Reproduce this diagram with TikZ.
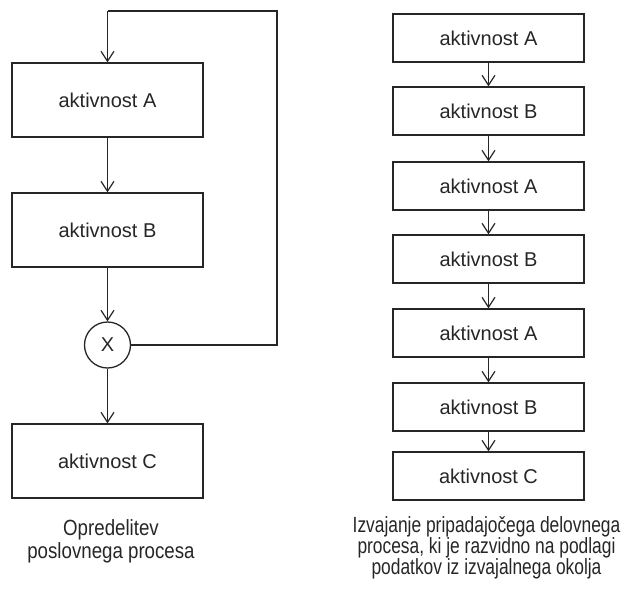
\documentclass[tikz,border=0pt]{standalone}
\usepackage{fontspec}
\setmainfont{Liberation Sans}
\newfontfamily\capfontl[FakeStretch=0.85]{Liberation Sans}
\newfontfamily\capfontr[FakeStretch=0.79]{Liberation Sans}
\usetikzlibrary{arrows.meta}
\colorlet{ink}{black!85}
\begin{document}
\begin{tikzpicture}[x=1pt,y=-1pt,
  every node/.style={text=ink},
  box/.style={draw=ink, line width=1.3pt, minimum width=191pt, minimum height=74pt, inner sep=0pt, font=\fontsize{20}{23}\selectfont},
  sbox/.style={box, minimum height=48pt},
  xcircle/.style={draw=ink, circle, line width=1.3pt, minimum size=46pt, inner sep=0pt, font=\fontsize{20}{23}\selectfont},
  arr/.style={draw=ink, -{Straight Barb[length=10pt,width=13pt,line width=1.2pt]}, line width=1.2pt},
  line/.style={draw=ink, line width=1.2pt},
  capl/.style={anchor=base, inner sep=0pt, font=\capfontl\fontsize{22}{24}\selectfont},
  capr/.style={anchor=base, inner sep=0pt, font=\capfontr\fontsize{22}{24}\selectfont}]
\useasboundingbox (0,0) rectangle (622,590);
% left column
\node[box] (la) at (107.5,100) {aktivnost A};
\node[box] (lb) at (107.5,230) {aktivnost B};
\node[xcircle] (x) at (107.5,345) {X};
\node[box] (lc) at (107.5,461) {aktivnost C};
\coordinate (c1) at (277,345);
\coordinate (c2) at (277,11);
\coordinate (c3) at (107.5,11);
\draw[arr] (la) -- (lb);
\draw[arr] (lb) -- (x);
\draw[arr] (x) -- (lc);
\draw[line] (x) -- (c1) -- (c2) -- (c3);
\draw[arr] (c3) -- (la);
\node[capl] (lcap1) at (111,535) {Opredelitev};
\node[capl] (lcap2) at (111,558) {poslovnega procesa};
% right column
\node[sbox] (r1) at (488.5,38) {aktivnost A};
\node[sbox] (r2) at (488.5,111) {aktivnost B};
\node[sbox] (r3) at (488.5,186) {aktivnost A};
\node[sbox] (r4) at (488.5,259) {aktivnost B};
\node[sbox] (r5) at (488.5,333) {aktivnost A};
\node[sbox] (r6) at (488.5,407) {aktivnost B};
\node[sbox] (r7) at (488.5,476) {aktivnost C};
\foreach \a/\b in {r1/r2,r2/r3,r3/r4,r4/r5,r5/r6,r6/r7}
  \draw[arr] (\a) -- (\b);
\node[capr] (rcap1) at (486.5,532) {Izvajanje pripadajočega delovnega};
\node[capr] (rcap2) at (486.5,553) {procesa, ki je razvidno na podlagi};
\node[capr] (rcap3) at (486.5,574) {podatkov iz izvajalnega okolja};
\end{tikzpicture}
\end{document}
